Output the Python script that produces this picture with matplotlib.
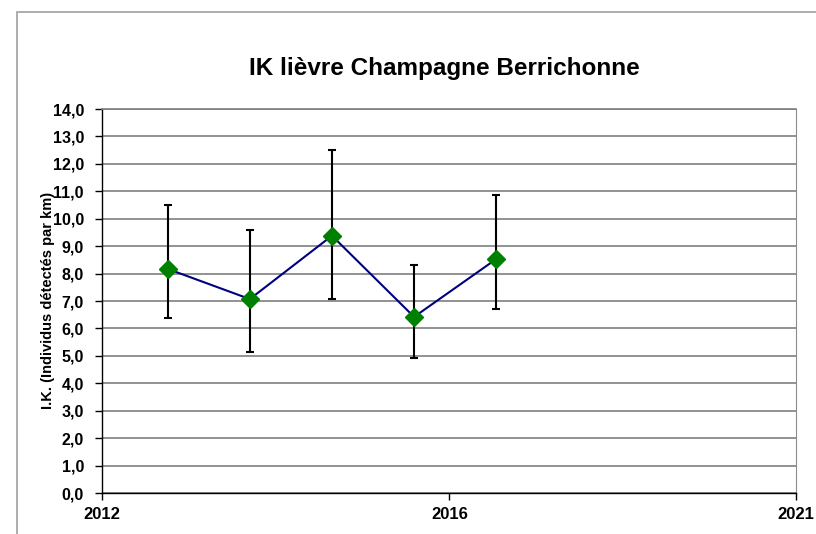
import matplotlib
matplotlib.use('Agg')
import matplotlib.pyplot as plt
from matplotlib.patches import Rectangle

plt.rcParams['font.family'] = ['Liberation Sans', 'DejaVu Sans']

# --- données ---
annees = [2013, 2014, 2015, 2016, 2017]
ik = [8.17, 7.07, 9.38, 6.42, 8.53]
ik_haut = [10.50, 9.58, 12.52, 8.31, 10.88]
ik_bas = [6.37, 5.14, 7.06, 4.92, 6.71]

# axe des x (échelle Excel : min, milieu, max)
x_ticks = [2012.2, 2016.43, 2020.65]
x_labels = ['2012', '2016', '2021']
y_ticks = list(range(0, 15))
y_labels = [f"{v:.1f}".replace('.', ',') for v in y_ticks]

TITRE = 'IK lièvre Champagne Berrichonne'
LABEL_Y = 'I.K. (Individus détectés par km)'


def main():
    fig = plt.figure(figsize=(8.16, 5.34), dpi=100)
    ax = fig.add_axes([102 / 816, 1 - 493 / 534, 694 / 816, 384 / 534])

    err_bas = [v - b for v, b in zip(ik, ik_bas)]
    err_haut = [h - v for v, h in zip(ik, ik_haut)]
    ax.errorbar(annees, ik, yerr=[err_bas, err_haut], fmt='none',
                ecolor='black', elinewidth=1.5, capsize=3, capthick=1.5, zorder=3)
    ax.plot(annees, ik, color='#000080', linewidth=1.5, zorder=4)
    ax.plot(annees, ik, linestyle='none', marker='D', markersize=9,
            color='#008000', zorder=5)

    ax.set_xlim(x_ticks[0], x_ticks[-1])
    ax.set_ylim(0, 14)
    ax.set_xticks(x_ticks)
    ax.set_xticklabels(x_labels, fontsize=12, fontweight='bold')
    ax.set_yticks(y_ticks)
    ax.set_yticklabels(y_labels, fontsize=11.5, fontweight='bold')
    ax.tick_params(axis='both', direction='out', length=5, width=1, colors='black')
    ax.tick_params(axis='y', pad=8)
    ax.tick_params(axis='x', pad=5)

    ax.grid(axis='y', color='#7f7f7f', linewidth=1.2)
    ax.set_axisbelow(True)
    for s in ['left', 'bottom']:
        ax.spines[s].set_color('black')
        ax.spines[s].set_linewidth(1)
    ax.spines['right'].set_color('#8c8c8c')
    ax.spines['top'].set_color('#7f7f7f')
    ax.spines['top'].set_linewidth(1.2)

    # le titre de l'axe y chevauche un peu les graduations, comme dans Excel
    ax.set_ylabel(LABEL_Y, fontsize=10.5, fontweight='bold', va='center')
    ax.yaxis.set_label_coords((48 - 102) / 694, (493 - 300) / 384)
    fig.text(444 / 816, 1 - 68 / 534, TITRE, ha='center', va='center',
             fontsize=17.5, fontweight='bold')

    # cadre de la zone graphique
    fig.patches.append(Rectangle((17 / 816, -0.1), 1.2, 1.1 - 12 / 534,
                                 transform=fig.transFigure, fill=False,
                                 edgecolor='#a0a0a0', linewidth=1.2))

    fig.savefig('out.png', dpi=100)
    plt.close(fig)


if __name__ == "__main__":
    main()
